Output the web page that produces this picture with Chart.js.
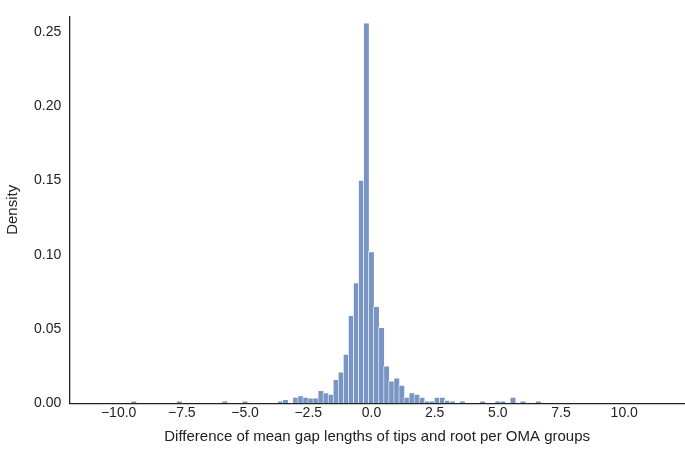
<!DOCTYPE html>
<html>
<head>
<meta charset="utf-8">
<script src="https://cdn.jsdelivr.net/npm/chart.js@4"></script>
<style>
  html, body { margin: 0; padding: 0; background: #fff; }
  #wrap { width: 685px; height: 456px; }
</style>
</head>
<body>
<div id="wrap"><canvas id="histChart"></canvas></div>
<script>
// Histogram bin centres (width 0.2) and density per bin
const binCenters = [
    -9.4, -7.6, -5.8, -5.0,
    -3.6, -3.4, -3.0, -2.8, -2.6, -2.4, -2.2, -2.0, -1.8, -1.6, -1.4, -1.2,
    -1.0, -0.8, -0.6, -0.4, -0.2, 0.0, 0.2, 0.4, 0.6, 0.8, 1.0, 1.2, 1.4,
    1.6, 1.8, 2.0, 2.2, 2.4, 2.6, 2.8, 3.0, 3.2, 3.6,
    4.4, 5.0, 5.2, 5.6, 6.0, 6.6, 10.4
];
const densities = [
    0.0015, 0.0015, 0.0015, 0.0015,
    0.0015, 0.0025, 0.004, 0.005, 0.004, 0.0035, 0.0035, 0.0085, 0.007, 0.006, 0.016,
    0.021, 0.033, 0.059, 0.081, 0.150, 0.256, 0.102, 0.065, 0.051, 0.025, 0.015,
    0.017, 0.012, 0.004, 0.007, 0.006, 0.004, 0.0015, 0.0015, 0.004, 0.004, 0.002,
    0.0015, 0.0015, 0.0015, 0.0015, 0.0015, 0.004, 0.0015, 0.0015
];
const yTicks = [0, 0.05, 0.10, 0.15, 0.20, 0.25];

const FONT = "'Liberation Sans', Arial, sans-serif";

const ctx = document.getElementById('histChart').getContext('2d');
new Chart(ctx, {
    type: 'bar',
    data: {
        datasets: [{
            data: binCenters.map((x, i) => ({ x: x, y: densities[i] })),
            backgroundColor: 'rgba(76, 114, 176, 0.75)',
            borderColor: '#ffffff',
            borderWidth: 0.8,
            barThickness: 5.9,
            grouped: false
        }]
    },
    options: {
        responsive: true,
        maintainAspectRatio: false,
        animation: false,
        layout: { padding: { top: 0, right: 0, left: 0, bottom: 6 } },
        plugins: { legend: { display: false }, tooltip: { enabled: false } },
        scales: {
            x: {
                type: 'linear',
                min: -10.6,
                max: 11.05,
                afterBuildTicks: axis => {
                    axis.ticks = [-10, -7.5, -5, -2.5, 0, 2.5, 5, 7.5, 10].map(v => ({ value: v }));
                },
                ticks: {
                    color: '#222',
                    font: { family: FONT, size: 14 },
                    padding: 2,
                    maxRotation: 0,
                    callback: v => (v < 0 ? '\u2212' : '') + Math.abs(v).toFixed(1)
                },
                grid: { display: false, drawTicks: false },
                border: { color: '#222', width: 1.3 },
                title: {
                    display: true,
                    text: 'Difference of mean gap lengths of tips and root per OMA groups',
                    color: '#222',
                    font: { family: FONT, size: 15 },
                    padding: { top: 4 }
                }
            },
            y: {
                min: 0,
                max: 0.2604,
                afterBuildTicks: axis => {
                    axis.ticks = yTicks.map(v => ({ value: v }));
                },
                ticks: {
                    color: '#222',
                    font: { family: FONT, size: 14 },
                    padding: 8,
                    callback: v => v.toFixed(2)
                },
                grid: { display: false, drawTicks: false },
                border: { color: '#222', width: 1.3 },
                title: {
                    display: true,
                    text: 'Density',
                    color: '#222',
                    font: { family: FONT, size: 15 },
                    padding: { bottom: 4 }
                }
            }
        }
    }
});
</script>
</body>
</html>
